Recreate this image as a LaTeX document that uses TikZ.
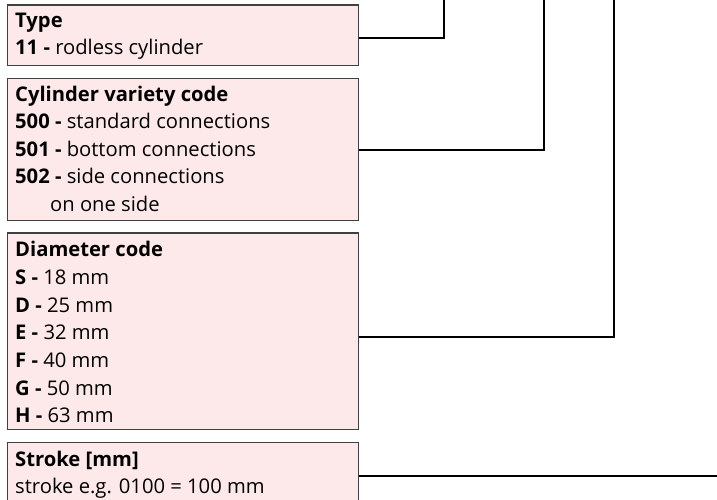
\documentclass[tikz,border=0pt]{standalone}
\usepackage{fontspec}
\setmainfont{Open Sans}
\definecolor{boxpink}{RGB}{253,233,233}
\definecolor{boxgray}{RGB}{64,64,64}
\begin{document}
\begin{tikzpicture}[x=1pt,y=-1pt,
  box/.style={draw=boxgray, fill=boxpink, line width=1.1pt, inner sep=0pt, anchor=north west, minimum width=351pt},
  conn/.style={draw=black, line width=2pt},
  txt/.style={anchor=base west, inner sep=0pt, font=\fontsize{20.2}{22}\selectfont}]
\useasboundingbox (0,0) rectangle (717,500);
% boxes
\node[box, minimum height=60.5pt] (b1) at (7,4.5) {};
\node[box, minimum height=142.3pt] (b2) at (7,77.7) {};
\node[box, minimum height=196.6pt] (b3) at (7,232.4) {};
\node[box, minimum height=80pt] (b4) at (7,441.7) {};
% box 1
\node[txt] (t11) at (15,28) {\textbf{Type}};
\node[txt] (t12) at (15,55) {\textbf{11 -} rodless cylinder};
% box 2
\node[txt] (t21) at (15,101.7) {\textbf{Cylinder variety code}};
\node[txt] (t22) at (15,128.8) {\textbf{500 -} standard connections};
\node[txt] (t23) at (15,156.2) {\textbf{501 -} bottom connections};
\node[txt] (t24) at (15,183.6) {\textbf{502 -} side connections};
\node[txt] (t25) at (50,211.4) {on one side};
% box 3
\node[txt] (t31) at (15,256.7) {\textbf{Diameter code}};
\node[txt] (t32) at (15,284.4) {\textbf{S -} 18 mm};
\node[txt] (t33) at (15,312) {\textbf{D -} 25 mm};
\node[txt] (t34) at (15,339.7) {\textbf{E -} 32 mm};
\node[txt] (t35) at (15,367.3) {\textbf{F -} 40 mm};
\node[txt] (t36) at (15,395) {\textbf{G -} 50 mm};
\node[txt] (t37) at (15,422.7) {\textbf{H -} 63 mm};
% box 4
\node[txt] (t41) at (15,466) {\textbf{Stroke [mm]}};
\node[txt] (t42) at (15,493) {stroke e.g. 0100 = 100 mm};
% connector ends
\coordinate (e1) at (444.3,-2);
\coordinate (e2) at (544,-2);
\coordinate (e3) at (614,-2);
\coordinate (e4) at (719,476);
\draw[conn] (b1.east |- 0,37.7) -| (e1);
\draw[conn] (b2.east |- 0,150) -| (e2);
\draw[conn] (b3.east |- 0,337.3) -| (e3);
\draw[conn] (b4.east |- e4) -- (e4);
\end{tikzpicture}
\end{document}
